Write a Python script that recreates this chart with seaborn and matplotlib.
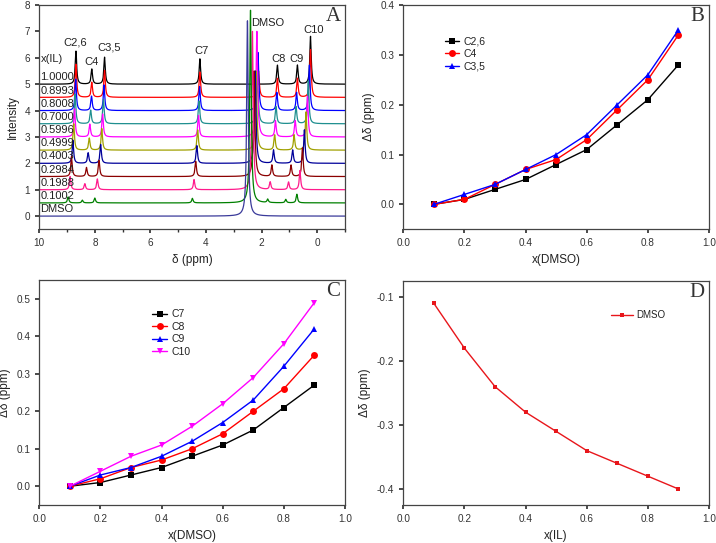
import numpy as np
import pandas as pd
import matplotlib
matplotlib.use("Agg")
import matplotlib.pyplot as plt
import seaborn as sns
from matplotlib.ticker import MultipleLocator, FormatStrFormatter

# ---------------- data ----------------
x_dmso = [0.1, 0.2, 0.3, 0.4, 0.5, 0.6, 0.7, 0.8, 0.9]
d_C26 = [0.00, 0.01, 0.03, 0.05, 0.08, 0.11, 0.16, 0.21, 0.28]
d_C4 = [0.00, 0.01, 0.04, 0.07, 0.09, 0.13, 0.19, 0.25, 0.34]
d_C35 = [0.00, 0.02, 0.04, 0.07, 0.10, 0.14, 0.20, 0.26, 0.35]
d_C7 = [0.00, 0.01, 0.03, 0.05, 0.08, 0.11, 0.15, 0.21, 0.27]
d_C8 = [0.00, 0.02, 0.05, 0.07, 0.10, 0.14, 0.20, 0.26, 0.35]
d_C9 = [0.00, 0.03, 0.05, 0.08, 0.12, 0.17, 0.23, 0.32, 0.42]
d_C10 = [0.00, 0.04, 0.08, 0.11, 0.16, 0.22, 0.29, 0.38, 0.49]

x_il = [0.1, 0.2, 0.3, 0.4, 0.5, 0.6, 0.7, 0.8, 0.9]
d_DMSO = [-0.11, -0.18, -0.24, -0.28, -0.31, -0.34, -0.36, -0.38, -0.40]

# Panel A: stacked 1H NMR spectra
trace_labels = ["1.0000", "0.8993", "0.8008", "0.7000", "0.5996", "0.4999",
                "0.4003", "0.2984", "0.1988", "0.1002", "DMSO"]
trace_colors = ["#000000", "#FF0000", "#0000FF", "#1F8F8F", "#FF00FF", "#A0A000",
                "#00009A", "#8B0000", "#FF1A8C", "#008000", "#3A3A9A"]
il_peak_names = ["C2,6", "C4", "C3,5", "C7", "C8", "C9", "C10"]
il_peak_ppm = [8.68, 8.11, 7.65, 4.22, 1.43, 0.71, 0.24]
il_peak_height = [1.25, 0.57, 1.02, 0.96, 0.72, 0.72, 1.81]
il_peak_shifts = [d_C26, d_C4, d_C35, d_C7, d_C8, d_C9, d_C10]
il_height_scale = [1.0, 1.0, 0.95, 0.9, 0.85, 0.8, 0.7, 0.6, 0.4, 0.18, 0.0]
dmso_ppm = 2.51
dmso_height = [0.0, 1.0, 2.2, 2.0, 4.0, 3.0, 3.5, 4.0, 6.0, 7.3, 7.4]

# ---------------- style ----------------
sns.set_theme(style="ticks")
plt.rcParams.update({
    "font.family": ["Liberation Sans", "DejaVu Sans"],
    "axes.unicode_minus": False,
    "axes.linewidth": 0.9,
    "axes.edgecolor": "#444444",
    "xtick.direction": "out",
    "ytick.direction": "out",
    "xtick.major.size": 3,
    "ytick.major.size": 3,
    "xtick.minor.size": 2,
    "xtick.labelsize": 7.2,
    "ytick.labelsize": 7.2,
    "axes.labelsize": 8.5,
    "xtick.color": "#333333",
    "ytick.color": "#333333",
    "text.color": "#222222",
    "axes.labelcolor": "#222222",
})

W, H = 716, 543
fig = plt.figure(figsize=(W / 100, H / 100), dpi=100)


def add_ax(l, t, r, b):
    return fig.add_axes([l / W, 1 - b / H, (r - l) / W, (b - t) / H])


axA = add_ax(39.3, 5, 345, 229.3)
axB = add_ax(403.3, 5, 709, 229.3)
axC = add_ax(39.3, 280, 345, 505)
axD = add_ax(403.3, 281, 709, 505)

# ---------------- panel A ----------------
ppm = np.linspace(-1, 10, 5501)


def lor(center, height, hw):
    return height * hw ** 2 / ((ppm - center) ** 2 + hw ** 2)


rows = []
n = len(trace_labels)
for i, lab in enumerate(trace_labels):
    offset = 0.5 * (n - 1 - i)
    y = np.full_like(ppm, offset)
    if il_height_scale[i] > 0:
        for k in range(len(il_peak_names)):
            sh = 0.0 if i == 0 else il_peak_shifts[k][i - 1]
            y += lor(il_peak_ppm[k] + sh, il_peak_height[k] * il_height_scale[i], 0.03)
    if dmso_height[i] > 0:
        dsh = 0.0 if i == n - 1 else d_DMSO[9 - i]
        y += lor(dmso_ppm + dsh, dmso_height[i], 0.033)
    rows.append(pd.DataFrame({"ppm": ppm, "intensity": y, "trace": lab}))
dfA = pd.concat(rows, ignore_index=True)

sns.lineplot(data=dfA, x="ppm", y="intensity", hue="trace", hue_order=trace_labels,
             palette=trace_colors, estimator=None, sort=False, legend=False,
             linewidth=0.9, ax=axA)
axA.set_xlim(10, -1)
axA.set_ylim(-0.5, 8)
axA.xaxis.set_major_locator(MultipleLocator(2))
axA.xaxis.set_minor_locator(MultipleLocator(1))
axA.yaxis.set_major_locator(MultipleLocator(1))
axA.set_xlabel("δ (ppm)")
axA.set_ylabel("Intensity")
for i, lab in enumerate(trace_labels):
    offset = 0.5 * (n - 1 - i)
    axA.text(9.96, offset + 0.07, lab, fontsize=8, ha="left", va="bottom")
axA.text(9.56, 5.94, "x(IL)", fontsize=8, ha="center", va="center")
peak_text_pos = {"C2,6": (8.72, 6.57), "C4": (8.12, 5.85), "C3,5": (7.5, 6.4),
                 "C7": (4.18, 6.27), "C8": (1.38, 5.95), "C9": (0.74, 5.95),
                 "C10": (0.14, 7.05)}
for name in il_peak_names:
    px, py = peak_text_pos[name]
    axA.text(px, py, name, fontsize=8, ha="center", va="center")
axA.text(1.79, 7.33, "DMSO", fontsize=8, ha="center", va="center")

# ---------------- panel B ----------------
for vals, name, col, mk in [(d_C26, "C2,6", "#000000", "s"),
                            (d_C4, "C4", "#FF0000", "o"),
                            (d_C35, "C3,5", "#0000FF", "^")]:
    sns.lineplot(x=x_dmso, y=vals, color=col, marker=mk, markersize=5,
                 markeredgewidth=0, linewidth=1.0, label=name, ax=axB)
axB.set_xlim(0, 1)
axB.set_ylim(-0.05, 0.4)
axB.xaxis.set_major_locator(MultipleLocator(0.2))
axB.yaxis.set_major_locator(MultipleLocator(0.1))
axB.xaxis.set_major_formatter(FormatStrFormatter("%.1f"))
axB.yaxis.set_major_formatter(FormatStrFormatter("%.1f"))
axB.set_xlabel("x(DMSO)")
axB.set_ylabel("Δδ (ppm)")
axB.legend(loc="upper left", bbox_to_anchor=(0.135, 0.86), frameon=False,
           fontsize=7.5, handlelength=1.4, handletextpad=0.4, borderpad=0,
           borderaxespad=0, labelspacing=0.25)

# ---------------- panel C ----------------
for vals, name, col, mk in [(d_C7, "C7", "#000000", "s"),
                            (d_C8, "C8", "#FF0000", "o"),
                            (d_C9, "C9", "#0000FF", "^"),
                            (d_C10, "C10", "#FF00FF", "v")]:
    sns.lineplot(x=x_dmso, y=vals, color=col, marker=mk, markersize=5,
                 markeredgewidth=0, linewidth=1.0, label=name, ax=axC)
axC.set_xlim(0, 1)
axC.set_ylim(-0.05, 0.55)
axC.xaxis.set_major_locator(MultipleLocator(0.2))
axC.yaxis.set_major_locator(MultipleLocator(0.1))
axC.xaxis.set_major_formatter(FormatStrFormatter("%.1f"))
axC.yaxis.set_major_formatter(FormatStrFormatter("%.1f"))
axC.set_xlabel("x(DMSO)")
axC.set_ylabel("Δδ (ppm)")
axC.legend(loc="upper left", bbox_to_anchor=(0.37, 0.87), frameon=False,
           fontsize=7.5, handlelength=1.4, handletextpad=0.4, borderpad=0,
           borderaxespad=0, labelspacing=0.25)

# ---------------- panel D ----------------
sns.lineplot(x=x_il, y=d_DMSO, color="#E8161B", marker="s", markersize=3,
             markeredgewidth=0, linewidth=1.0, label="DMSO", ax=axD)
axD.set_xlim(0, 1)
axD.set_ylim(-0.425, -0.075)
axD.xaxis.set_major_locator(MultipleLocator(0.2))
axD.yaxis.set_major_locator(MultipleLocator(0.1))
axD.xaxis.set_major_formatter(FormatStrFormatter("%.1f"))
axD.yaxis.set_major_formatter(FormatStrFormatter("%.1f"))
axD.set_xlabel("x(IL)")
axD.set_ylabel("Δδ (ppm)")
axD.legend(loc="upper left", bbox_to_anchor=(0.68, 0.87), frameon=False,
           fontsize=7, handlelength=2.2, handletextpad=0.4, borderpad=0,
           borderaxespad=0)

# panel letters and spines
for ax, letter in [(axA, "A"), (axB, "B"), (axC, "C"), (axD, "D")]:
    ax.text(0.962, 0.948, letter, transform=ax.transAxes, ha="center", va="center",
            fontsize=15, family="Liberation Serif", color="#333333")
    for s in ax.spines.values():
        s.set_visible(True)
    ax.tick_params(top=False, right=False, which="both")

fig.savefig("out.png", dpi=100)
